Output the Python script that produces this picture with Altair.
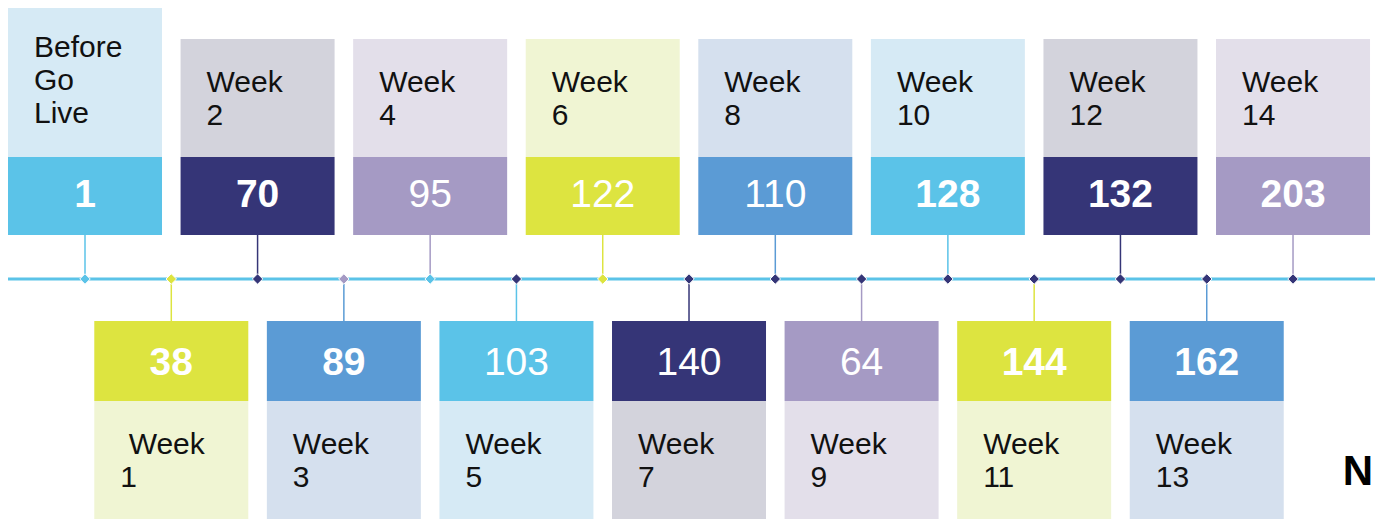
import altair as alt
import pandas as pd

# ---- data ----
labels = ["Before\nGo\nLive", "\u200b\u00a0Week\n1", "Week\n2", "Week\n3", "Week\n4", "Week\n5",
          "Week\n6", "Week\n7", "Week\n8", "Week\n9", "Week\n10", "Week\n11",
          "Week\n12", "Week\n13", "Week\n14"]
values = [1, 38, 70, 89, 95, 103, 122, 140, 110, 64, 128, 144, 132, 162, 203]
bold_flags = [True, True, True, True, False, False, False, False, False, False,
              True, True, True, True, True]

# ---- styles ----
value_palette = ["#5BC3E8", "#DDE440", "#353577", "#5B9BD5", "#A59AC4"]
label_palette = ["#D6EAF5", "#F0F5D3", "#D3D3DC", "#D5E0EE", "#E3DFEA"]
diamond_colors = ["#5BC3E8", "#DDE440", "#353577", "#A59AC4", "#5BC3E8", "#353577",
                  "#DDE440", "#353577", "#353577", "#353577", "#353577", "#353577",
                  "#353577", "#353577", "#353577"]
FONT = "Liberation Sans"
W, H = 1367, 511

df = pd.DataFrame({
    "idx": list(range(len(values))),
    "label": labels,
    "value": values,
    "bold": bold_flags,
})
df["vcolor"] = [value_palette[i % 5] for i in df["idx"]]
df["lcolor"] = [label_palette[i % 5] for i in df["idx"]]
df["dcolor"] = diamond_colors
df["row"] = ["top" if i % 2 == 0 else "bottom" for i in df["idx"]]

xscale = alt.Scale(domain=[-0.8924, 14.950], range=[0, W], nice=False, zero=False)
X = alt.X("idx:Q", scale=xscale, axis=None)
HALF = 0.8924

base = alt.Chart(df)
top = base.transform_filter("datum.row == 'top'")
bot = base.transform_filter("datum.row == 'bottom'")

def boxes(src, y1, y2, colfield):
    return src.transform_calculate(
        x1="datum.idx - %f" % HALF, x2="datum.idx + %f" % HALF
    ).mark_rect().encode(
        x=alt.X("x1:Q", scale=xscale, axis=None),
        x2="x2:Q",
        y=alt.value(y1), y2=alt.value(y2),
        color=alt.Color(colfield + ":N", scale=None),
    )

timeline = base.transform_filter("datum.idx == 0").mark_rule(
    strokeWidth=3, color="#5BC3E8").encode(
    x=alt.value(-8), x2=alt.value(W), y=alt.value(271))

conn_top = top.mark_rule(strokeWidth=1.5).encode(
    x=X, y=alt.value(227), y2=alt.value(271), color=alt.Color("vcolor:N", scale=None))
conn_bot = bot.mark_rule(strokeWidth=1.5).encode(
    x=X, y=alt.value(271), y2=alt.value(313), color=alt.Color("vcolor:N", scale=None))

bgl = top.transform_filter("datum.idx == 0")
oth_top = top.transform_filter("datum.idx != 0")

lab_top0 = boxes(bgl, -2, 149, "lcolor")
lab_top = boxes(oth_top, 31, 149, "lcolor")
val_top = boxes(top, 149, 227, "vcolor")
val_bot = boxes(bot, 313, 393, "vcolor")
lab_bot = boxes(bot, 393, 511, "lcolor")

diamonds = base.mark_point(shape="diamond", filled=True, size=110, stroke="white",
                           strokeWidth=1, opacity=1).encode(
    x=X, y=alt.value(271), fill=alt.Color("dcolor:N", scale=None))

def labtext(src, y):
    return src.mark_text(align="left", baseline="alphabetic", dx=-51, fontSize=30,
                         font=FONT, color="#111111", lineBreak="\n", lineHeight=33).encode(
        x=X, y=alt.value(y), text="label:N")

def valtext(src, y, weight):
    return src.mark_text(align="center", baseline="alphabetic", fontSize=39,
                         font=FONT, color="white", fontWeight=weight).encode(
        x=X, y=alt.value(y), text="value:Q")

t_lab0 = labtext(bgl, 49)
t_lab_top = labtext(oth_top, 84)
t_lab_bot = labtext(bot, 446)
t_val_top_b = valtext(top.transform_filter("datum.bold"), 199, "bold")
t_val_top_n = valtext(top.transform_filter("!datum.bold"), 199, "normal")
t_val_bot_b = valtext(bot.transform_filter("datum.bold"), 367, "bold")
t_val_bot_n = valtext(bot.transform_filter("!datum.bold"), 367, "normal")

n_text = base.transform_filter("datum.idx == 0").mark_text(
    align="right", baseline="alphabetic", fontSize=42, fontWeight="bold",
    font=FONT, color="#000000").encode(
    x=alt.value(W - 2), y=alt.value(477), text=alt.value("N"))

chart = alt.layer(
    timeline, conn_top, conn_bot,
    lab_top0, lab_top, val_top, val_bot, lab_bot,
    diamonds,
    t_lab0, t_lab_top, t_lab_bot,
    t_val_top_b, t_val_top_n, t_val_bot_b, t_val_bot_n, n_text,
).properties(
    width=W, height=H, autosize=alt.AutoSizeParams(type="none"), padding=0,
    background="white"
).configure_view(stroke=None)

chart.save("out.html", embed_options={"renderer": "svg", "actions": False})
